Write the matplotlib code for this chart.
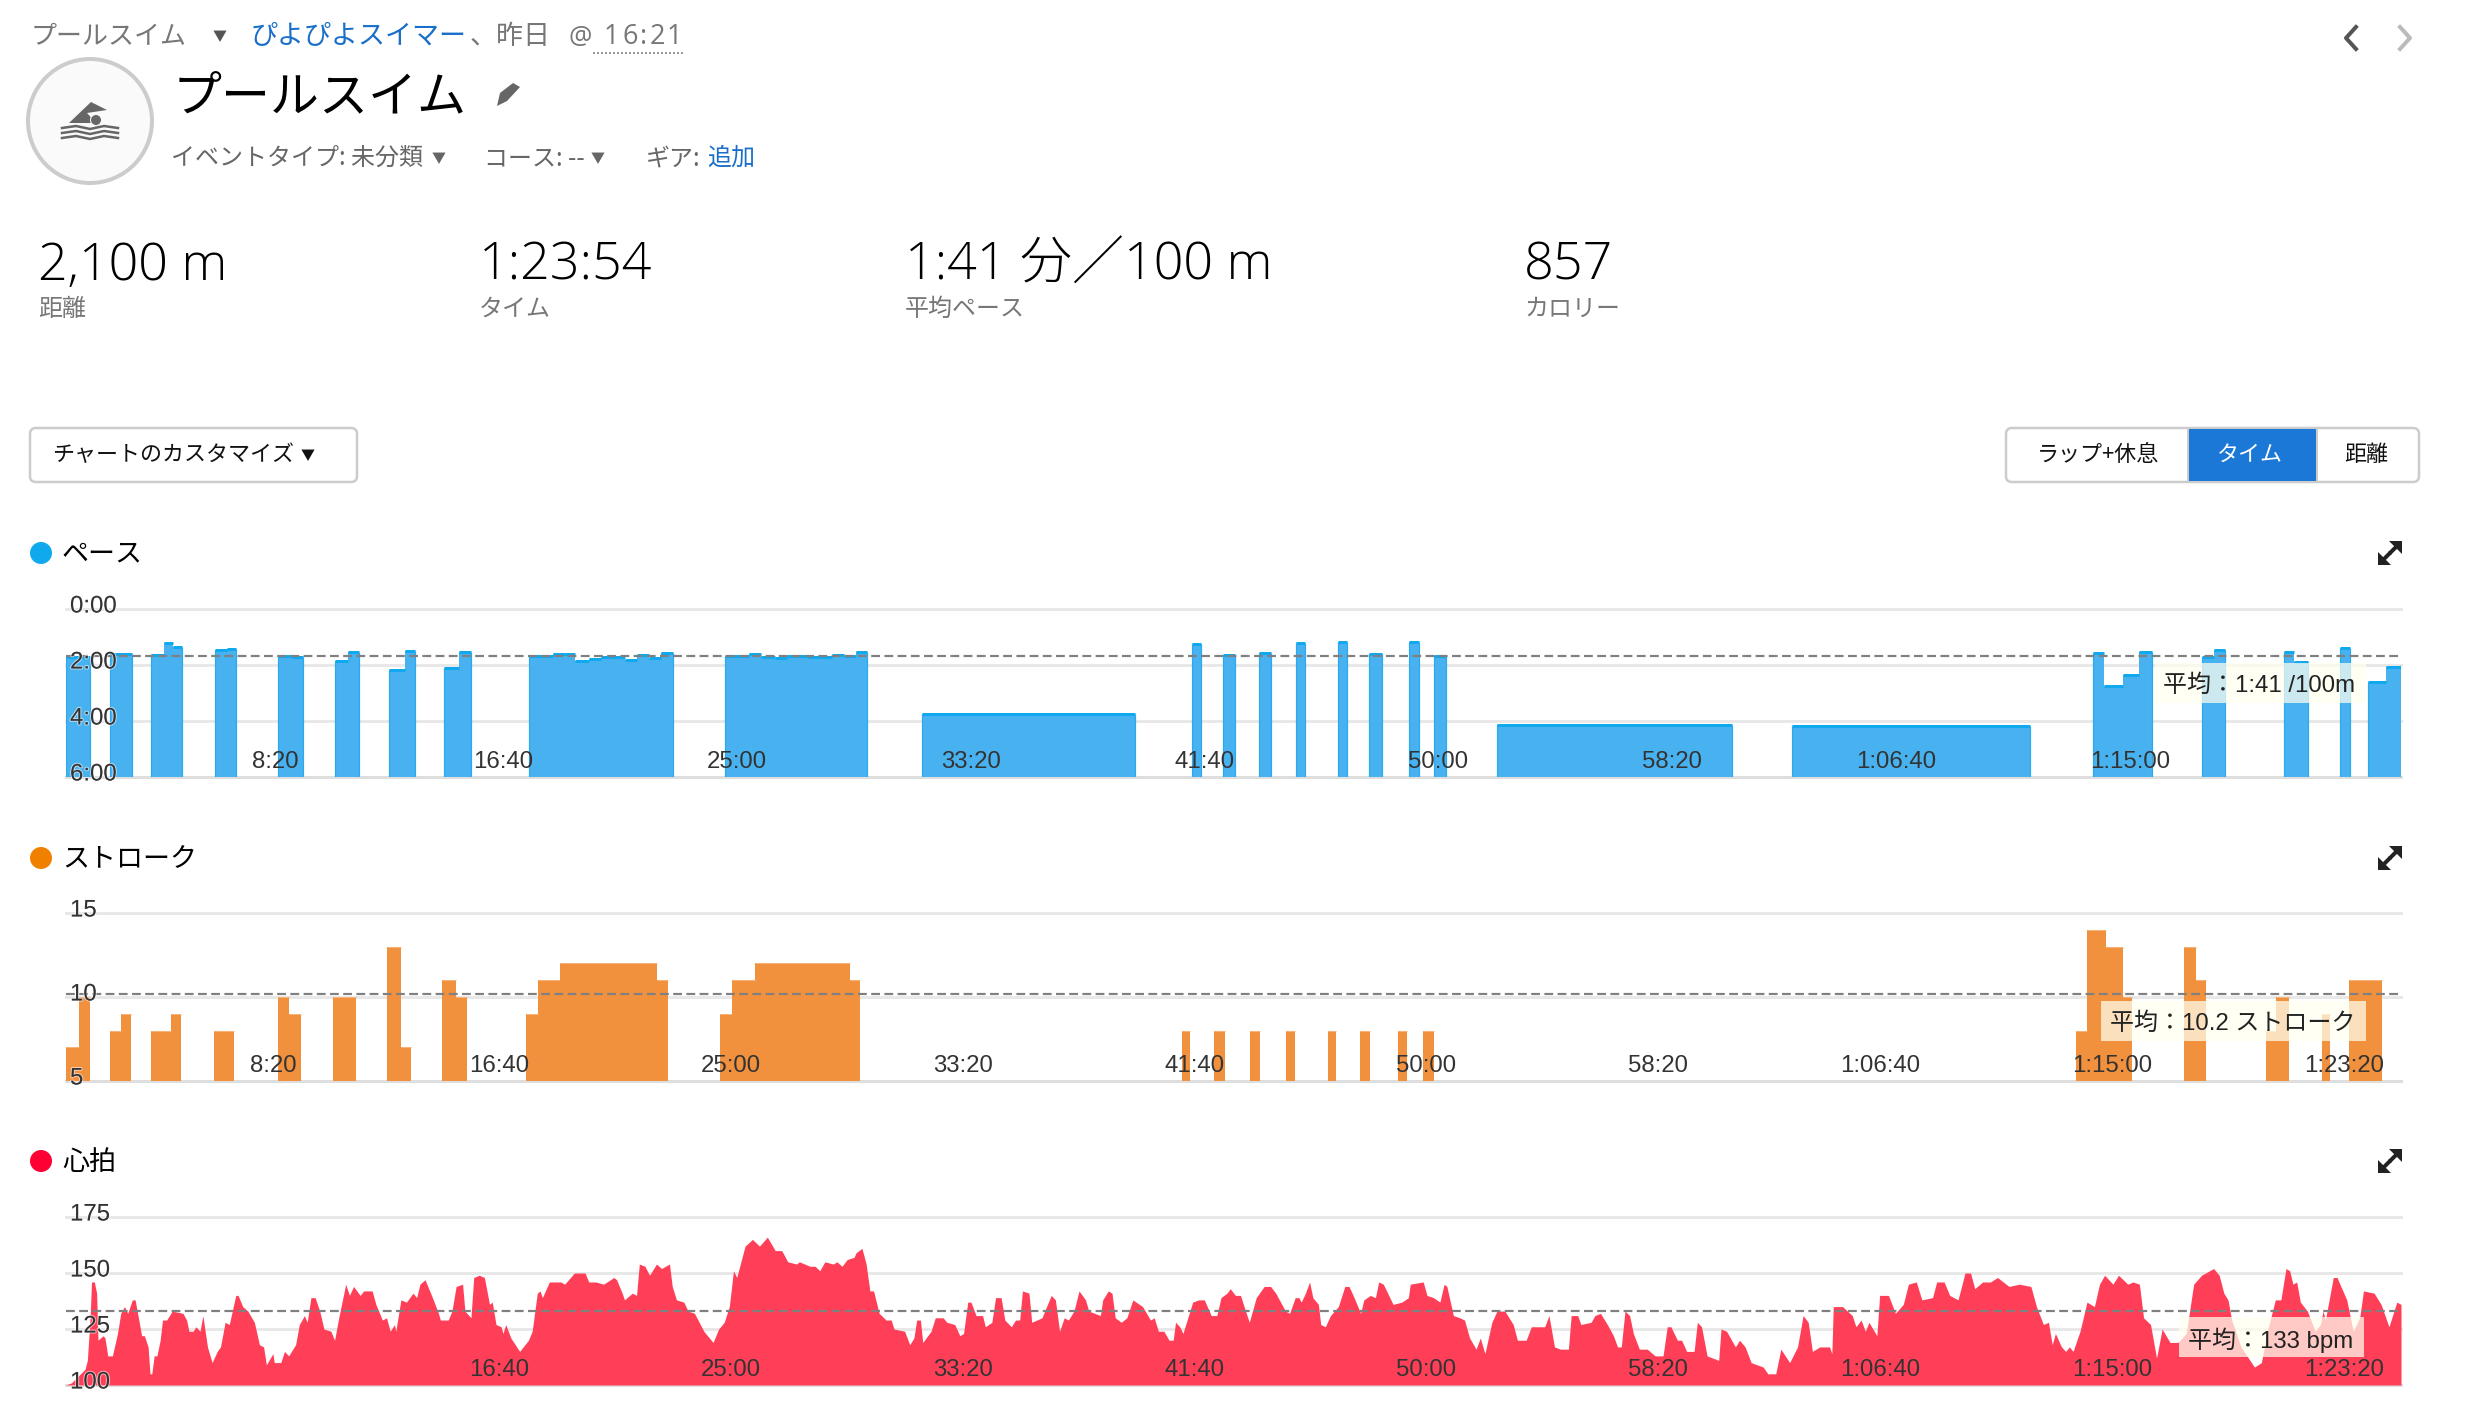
import matplotlib
matplotlib.use("Agg")
import matplotlib.pyplot as plt
from matplotlib.patches import Circle, FancyBboxPatch, Polygon, Rectangle
from matplotlib.transforms import ScaledTranslation
import matplotlib.patheffects as pe

# figure is set up at 72 dpi so 1 pt = 1 px, which keeps sizes easy to compare
W, H = 2468, 1428
JP = ["Noto Sans CJK JP", "DejaVu Sans"]
NUM = ["Liberation Sans", "Noto Sans CJK JP"]
STAT = ["Open Sans", "Noto Sans CJK JP"]
plt.rcParams["font.family"] = JP

# pace laps: start / end in seconds, value in minutes per 100 m
pace_start = [1, 94, 182, 209, 229, 319, 344, 454, 481, 574, 603, 690, 724, 809, 841,
              990, 1040, 1066, 1089, 1118, 1143, 1169, 1194, 1221, 1246, 1272,
              1409, 1459, 1485, 1515, 1541, 1586, 1612, 1637, 1662, 1688,
              1830, 2406, 2473, 2550, 2629, 2719, 2786, 2871, 2923, 3058, 3690,
              4332, 4356, 4397, 4432, 4566, 4591, 4740, 4763, 4860, 4921, 4959]
pace_end = [52, 141, 209, 229, 248, 344, 364, 481, 506, 603, 626, 724, 746, 841, 866,
            1040, 1066, 1089, 1118, 1143, 1169, 1194, 1221, 1246, 1272, 1297,
            1459, 1485, 1515, 1541, 1586, 1612, 1637, 1662, 1688, 1713,
            2284, 2426, 2499, 2575, 2649, 2739, 2813, 2891, 2950, 3560, 4197,
            4356, 4397, 4432, 4458, 4591, 4615, 4763, 4792, 4883, 4959, 4992]
pace_val = [1.71, 1.59, 1.63, 1.23, 1.35, 1.48, 1.44, 1.67, 1.73, 1.85, 1.53, 2.18, 1.49, 2.11, 1.55,
            1.67, 1.62, 1.59, 1.85, 1.80, 1.73, 1.72, 1.81, 1.63, 1.75, 1.56,
            1.69, 1.62, 1.72, 1.74, 1.68, 1.73, 1.72, 1.63, 1.69, 1.53,
            3.76, 1.26, 1.63, 1.56, 1.23, 1.18, 1.60, 1.19, 1.67, 4.13, 4.19,
            1.58, 2.74, 2.37, 1.54, 1.73, 1.48, 1.52, 1.90, 1.41, 2.60, 2.06]
pace_avg = 1.683
pace_ticks = [0, 2, 4, 6]
pace_ticklabels = ["0:00", "2:00", "4:00", "6:00"]
pace_xticks = [500, 1000, 1500, 2000, 2500, 3000, 3500, 4000, 4500]
pace_xlabels = ["8:20", "16:40", "25:00", "33:20", "41:40", "50:00", "58:20", "1:06:40", "1:15:00"]

# strokes per length
stroke_start = [1, 27, 95, 119, 184, 226, 320, 456, 480, 576, 691, 722, 811, 841,
                991, 1017, 1066, 1274, 1409, 1436, 1486, 1690, 2406, 2474, 2552, 2630,
                2720, 2789, 2872, 2925, 4333, 4357, 4397, 4435, 4566, 4592, 4742, 4764, 4863, 4922]
stroke_end = [27, 52, 119, 141, 226, 247, 363, 480, 506, 625, 722, 744, 841, 865,
              1017, 1066, 1274, 1297, 1436, 1486, 1690, 1711, 2423, 2498, 2575, 2649,
              2737, 2812, 2891, 2950, 4357, 4397, 4435, 4455, 4592, 4614, 4764, 4793, 4881, 4992]
stroke_val = [7, 10, 8, 9, 8, 9, 8, 10, 9, 10, 13, 7, 11, 10,
              9, 11, 12, 11, 9, 11, 12, 11, 8, 8, 8, 8,
              8, 8, 8, 8, 8, 14, 13, 10, 13, 11, 8, 10, 9, 11]
stroke_avg = 10.2
stroke_ticks = [5, 10, 15]
stroke_xticks = [500, 1000, 1500, 2000, 2500, 3000, 3500, 4000, 4500, 5000]
stroke_xlabels = ["8:20", "16:40", "25:00", "33:20", "41:40", "50:00", "58:20", "1:06:40", "1:15:00", "1:23:20"]

# heart rate: seconds and bpm
hr_time = [0, 12, 41, 46, 52, 55, 61, 66, 69, 80, 84, 90, 100, 111, 118, 126, 133, 143, 149, 157, 163, 169, 177, 181, 185,
           190, 196, 203, 208, 217, 229, 252, 260, 265, 274, 280, 289, 295, 305, 315, 326, 333, 343, 352, 366, 371, 381, 392,
           406, 417, 426, 432, 446, 449, 463, 471, 480, 495, 503, 514, 520, 528, 537, 547, 556, 571, 579, 588, 603, 611, 620,
           634, 642, 660, 668, 682, 691, 699, 708, 711, 722, 734, 748, 756, 763, 774, 788, 803, 807, 824, 832, 841, 855, 860,
           873, 879, 891, 902, 913, 919, 927, 938, 942, 948, 959, 978, 997, 1005, 1016, 1022, 1027, 1042, 1054, 1067, 1075,
           1096, 1119, 1127, 1142, 1159, 1181, 1187, 1199, 1204, 1221, 1230, 1236, 1248, 1258, 1273, 1284, 1301, 1307, 1316,
           1332, 1341, 1355, 1375, 1395, 1407, 1419, 1430, 1439, 1446, 1464, 1480, 1495, 1512, 1529, 1543, 1556, 1575, 1581,
           1604, 1615, 1625, 1636, 1654, 1662, 1673, 1684, 1699, 1703, 1716, 1725, 1733, 1741, 1753, 1768, 1779, 1785, 1808,
           1819, 1828, 1834, 1842, 1847, 1865, 1874, 1891, 1899, 1916, 1927, 1935, 1944, 1951, 1962, 1976, 1982, 1996, 2004,
           2016, 2024, 2038, 2047, 2056, 2062, 2076, 2082, 2104, 2124, 2133, 2142, 2152, 2161, 2173, 2184, 2198, 2205, 2230,
           2235, 2247, 2255, 2262, 2275, 2287, 2300, 2321, 2338, 2346, 2355, 2367, 2378, 2387, 2392, 2401, 2408, 2414, 2429,
           2442, 2454, 2469, 2481, 2490, 2503, 2510, 2521, 2532, 2543, 2551, 2566, 2583, 2597, 2608, 2629, 2638, 2650, 2658,
           2663, 2672, 2681, 2688, 2700, 2705, 2715, 2726, 2743, 2757, 2766, 2777, 2791, 2798, 2812, 2823, 2830, 2840, 2861,
           2880, 2894, 2898, 2926, 2934, 2948, 2962, 2971, 2977, 2991, 3005, 3015, 3026, 3040, 3049, 3059, 3074, 3085, 3102,
           3120, 3129, 3148, 3159, 3177, 3188, 3197, 3209, 3222, 3239, 3245, 3259, 3266, 3288, 3296, 3308, 3323, 3336, 3345,
           3353, 3361, 3371, 3379, 3392, 3409, 3426, 3443, 3452, 3460, 3474, 3483, 3494, 3510, 3517, 3526, 3538, 3563, 3568,
           3580, 3599, 3608, 3620, 3633, 3659, 3669, 3686, 3697, 3716, 3733, 3745, 3756, 3765, 3781, 3802, 3807, 3810, 3830,
           3851, 3859, 3870, 3879, 3887, 3904, 3910, 3929, 3944, 3961, 3972, 3989, 4001, 4024, 4033, 4049, 4061, 4079, 4094,
           4106, 4115, 4132, 4149, 4164, 4189, 4211, 4236, 4248, 4263, 4274, 4282, 4289, 4302, 4311, 4319, 4327, 4342, 4357,
           4373, 4384, 4395, 4413, 4425, 4445, 4456, 4470, 4479, 4494, 4507, 4519, 4536, 4553, 4571, 4587, 4604, 4630, 4642,
           4652, 4661, 4669, 4689, 4718, 4733, 4746, 4763, 4775, 4786, 4794, 4801, 4809, 4817, 4832, 4849, 4860, 4866, 4871,
           4888, 4896, 4917, 4931, 4945, 4953, 4976, 4991, 5008, 5025, 5034]
hr_bpm = [100, 101, 107, 111, 130, 146, 146, 141, 120, 122, 121, 113, 113, 123, 132, 135, 132, 138, 138, 129, 122, 122, 117, 105, 105,
          113, 113, 120, 129, 129, 133, 132, 129, 124, 124, 126, 124, 131, 117, 110, 115, 117, 128, 127, 140, 140, 135, 133,
          128, 118, 117, 109, 114, 110, 110, 115, 113, 118, 127, 131, 128, 139, 139, 133, 125, 124, 120, 130, 145, 140, 144,
          140, 142, 142, 136, 129, 130, 124, 127, 124, 138, 137, 141, 139, 145, 147, 140, 132, 129, 129, 133, 144, 145, 133,
          130, 148, 149, 148, 136, 137, 127, 126, 123, 127, 121, 115, 120, 124, 141, 142, 139, 146, 146, 146, 145,
          150, 150, 146, 146, 145, 148, 147, 141, 138, 141, 140, 154, 153, 149, 154, 152, 154, 144, 138,
          137, 133, 132, 124, 119, 125, 128, 135, 151, 148, 162, 165, 162, 166, 160, 160, 155, 154, 155,
          153, 153, 151, 155, 154, 155, 153, 156, 157, 159, 161, 154, 142, 142, 132, 129, 129, 125, 124,
          118, 121, 129, 129, 119, 124, 130, 130, 128, 127, 122, 123, 137, 137, 131, 131, 126, 128, 139,
          139, 129, 126, 129, 129, 142, 141, 128, 130, 140, 138, 124, 130, 129, 133, 142, 138, 133, 131,
          138, 142, 141, 130, 128, 130, 138, 135, 129, 130, 124, 124, 120, 120, 128, 126, 123, 127, 137,
          138, 138, 131, 131, 139, 141, 143, 140, 140, 133, 128, 139, 144, 144, 141, 133, 132, 139, 139,
          137, 141, 146, 139, 136, 127, 126, 131, 135, 144, 144, 139, 132, 138, 140, 139, 146, 145, 136,
          137, 139, 145, 146, 140, 139, 137, 145, 144, 131, 130, 129, 121, 116, 121, 114, 128, 133, 133,
          127, 120, 120, 126, 126, 126, 131, 117, 116, 116, 131, 131, 127, 128, 131, 132, 127, 122, 117,
          117, 133, 131, 123, 116, 116, 113, 113, 126, 126, 120, 120, 115, 115, 128, 126, 113, 111, 125,
          124, 117, 120, 117, 110, 108, 105, 105, 116, 110, 117, 131, 128, 115, 117, 117, 114, 135, 135,
          131, 126, 129, 124, 128, 122, 140, 140, 132, 136, 145, 146, 138, 139, 146, 146, 140, 138, 150,
          150, 143, 146, 146, 148, 144, 145, 144, 135, 127, 128, 118, 123, 117, 115, 117, 115, 124, 137,
          135, 145, 149, 145, 149, 145, 146, 145, 130, 127, 112, 125, 119, 119, 123, 145, 149, 152, 149,
          141, 138, 129, 117, 108, 110, 124, 138, 138, 152, 151, 145, 146, 137, 133, 124, 127, 133, 129,
          148, 148, 138, 124, 130, 142, 141, 136, 126, 137, 136]
hr_avg = 133
hr_ticks = [100, 125, 150, 175]
hr_xticks = [1000, 1500, 2000, 2500, 3000, 3500, 4000, 4500, 5000]
hr_xlabels = ["16:40", "25:00", "33:20", "41:40", "50:00", "58:20", "1:06:40", "1:15:00", "1:23:20"]

# summary numbers under the title
stat_values = ["2,100 m", "1:23:54", "1:41 分／100 m", "857"]
stat_names = ["距離", "タイム", "平均ペース", "カロリー"]
stat_x = [38, 479, 905, 1524]

fig = plt.figure(figsize=(W / 72, H / 72), dpi=72, facecolor="white")


def chart_axes(top, bottom, xmax, ymin, ymax, yticks, ylabels, xticks, xlabels, avg, xpad):
    ax = fig.add_axes([66 / W, 1 - bottom / H, 2335 / W, (bottom - top) / H])
    ax.set_xlim(0, xmax)
    ax.set_ylim(ymin, ymax)
    for s in ax.spines.values():
        s.set_visible(False)
    ax.patch.set_alpha(0)
    for v in yticks:
        c = "#dedede" if v == ymin else "#e8e8e8"
        ax.axhline(v, color=c, lw=3, zorder=0, clip_on=False)
    ax.axhline(avg, color="#808080", lw=2.2, dashes=(4, 2), zorder=3)
    ax.set_yticks(yticks)
    ax.set_yticklabels(ylabels, family=NUM, fontsize=24, color="#333333", ha="left")
    ax.set_xticks(xticks)
    ax.set_xticklabels(xlabels, family=NUM, fontsize=24, color="#333333", ha="right")
    ax.tick_params(axis="y", length=0, pad=-4)
    ax.tick_params(axis="x", length=0, pad=-xpad)
    ax.xaxis.set_zorder(10)
    ax.yaxis.set_zorder(10)
    shift = ScaledTranslation(0, 5 / 72, fig.dpi_scale_trans)
    for lab in ax.get_yticklabels():
        lab.set_transform(lab.get_transform() + shift)
        lab.set_path_effects([pe.withStroke(linewidth=2, foreground=(1, 1, 1, 0.6))])
    shift = ScaledTranslation(-1 / 72, 0, fig.dpi_scale_trans)
    for lab in ax.get_xticklabels():
        lab.set_transform(lab.get_transform() + shift)
    return ax


# pace chart, smaller is faster so the axis runs downward
ax1 = chart_axes(609, 777, 4991, 6, 0, pace_ticks, pace_ticklabels, pace_xticks, pace_xlabels, pace_avg, 26)
widths = [e - s for s, e in zip(pace_start, pace_end)]
ax1.bar(pace_start, [v - 6 for v in pace_val], widths, bottom=6, align="edge", color="#47b2ef", zorder=1)
ax1.hlines(pace_val, pace_start, pace_end, color="#11a9ed", lw=3, zorder=2)
# darker outline on the outer sides of each block only
for s, e, v in zip(pace_start, pace_end, pace_val):
    if s not in pace_end:
        ax1.vlines(s, 6, v, color="#2ba8ee", lw=1.2, zorder=2)
    if e not in pace_start:
        ax1.vlines(e, 6, v, color="#2ba8ee", lw=1.2, zorder=2)

# strokes
ax2 = chart_axes(913, 1081, 5034, 5, 15, stroke_ticks, [str(t) for t in stroke_ticks],
                 stroke_xticks, stroke_xlabels, stroke_avg, 26)
widths = [e - s for s, e in zip(stroke_start, stroke_end)]
ax2.bar(stroke_start, [v - 5 for v in stroke_val], widths, bottom=5, align="edge", color="#f2913d", zorder=1)
ax2.hlines(stroke_val, stroke_start, stroke_end, color="#f7b27a", lw=1, zorder=2)

# heart rate
ax3 = chart_axes(1217, 1385, 5034, 100, 175, hr_ticks, [str(t) for t in hr_ticks],
                 hr_xticks, hr_xlabels, hr_avg, 26)
ax3.fill_between(hr_time, hr_bpm, 100, color="#ff3f58", lw=0, zorder=1)

# everything around the charts is page furniture, drawn in pixel coordinates
ui = fig.add_axes([0, 0, 1, 1], zorder=20)
ui.set_xlim(0, W)
ui.set_ylim(H, 0)
ui.axis("off")
ui.patch.set_alpha(0)

GRAY = "#666666"
BLUE = "#1a6fc9"


def label(x, y, s, size=26, color="#666666", family=JP, ha="left", **kw):
    # the CJK font sits a little high compared with the page, hence the nudge
    ui.text(x, y + 2, s, fontsize=size, color=color, family=family, ha=ha, va="center", **kw)


# breadcrumb line
label(31, 35, "プールスイム", 26, "#777777")
label(220, 35, "▼", 14, "#555555", ha="center")
label(251, 35, "ぴよぴよスイマー", 27, BLUE)
label(470, 35, "、昨日", 27, "#777777")
label(568, 35, "@", 26, "#777777", family=STAT)
for i, ch in enumerate("16:21"):
    label(604 + [0, 18, 36, 46, 63][i], 35, ch, 27, "#777777", family=STAT)
ui.plot([593, 684], [53, 53], color="#999999", lw=2, ls=(0, (1, 1)))

# activity icon
ui.add_patch(Circle((90, 121), 62, fc="#fafafa", ec="#cccccc", lw=4))
ui.add_patch(Polygon([(69, 123), (91, 102), (107, 110), (87, 113), (96, 123)], fc=GRAY, ec="none"))
ui.add_patch(Circle((96, 120), 5.5, fc=GRAY, ec="#fafafa", lw=1))
for wy in [128, 133, 138]:
    ui.plot([62, 76, 90, 104, 118], [wy, wy - 2, wy + 1, wy - 2, wy], color=GRAY, lw=2.5)

# title row
label(173, 96, "プールスイム", 49, "#000000")
ui.add_patch(Polygon([(497, 106), (500, 93), (513, 83), (520, 87), (507, 101)], fc=GRAY, ec="none"))
label(171, 156, "イベントタイプ: 未分類", 24, GRAY)
label(439, 157, "▼", 14, GRAY, ha="center")
label(484, 156, "コース: --", 24, GRAY)
label(598, 157, "▼", 14, GRAY, ha="center")
label(646, 156, "ギア:", 24, GRAY)
label(707, 156, "追加", 24, BLUE)

for x, val, name in zip(stat_x, stat_values, stat_names):
    label(x, 264, val, 52, "#000000", family=STAT, fontweight="light")
    label(x, 307, name, 24, "#777777")

# dropdown and the segmented buttons
ui.add_patch(FancyBboxPatch((30, 428), 327, 54, boxstyle="round,pad=0,rounding_size=6", fc="white", ec="#cccccc", lw=2.5))
label(52, 453, "チャートのカスタマイズ", 22, "#111111")
label(308, 454, "▼", 14, "#111111", ha="center")
ui.add_patch(FancyBboxPatch((2006, 428), 413, 54, boxstyle="round,pad=0,rounding_size=6", fc="white", ec="#cccccc", lw=2.5))
ui.add_patch(Rectangle((2189, 429), 127, 52, fc="#1b78d6", ec="none"))
ui.plot([2188, 2188], [428, 482], color="#cccccc", lw=2)
ui.plot([2317, 2317], [428, 482], color="#cccccc", lw=2)
label(2098, 453, "ラップ+休息", 22, "#111111", ha="center")
label(2250, 453, "タイム", 22, "white", ha="center")
label(2366, 453, "距離", 22, "#111111", ha="center")

# previous / next arrows
ui.plot([2356, 2346, 2356], [27, 38, 49], color="#555555", lw=4)
ui.plot([2400, 2410, 2400], [27, 38, 49], color="#bbbbbb", lw=4)

# section headings with dots and expand icons
for y, name, col in [(553, "ペース", "#11a9ed"), (858, "ストローク", "#f08000"), (1161, "心拍", "#ff0035")]:
    ui.add_patch(Circle((41, y), 11, fc=col, ec="none"))
    label(62, y - 1, name, 27, "#000000")
    cx = 2390
    ui.add_patch(Polygon([(cx + 12, y - 12), (cx - 1, y - 12), (cx + 12, y + 1)], fc="#222222", ec="none"))
    ui.add_patch(Polygon([(cx - 12, y + 12), (cx + 1, y + 12), (cx - 12, y - 1)], fc="#222222", ec="none"))
    ui.plot([cx + 7, cx + 1], [y - 7, y - 1], color="#222222", lw=4)
    ui.plot([cx - 7, cx - 1], [y + 7, y + 1], color="#222222", lw=4)

# average tooltips sit on top of the marks
for x0, x1, y0, y1, s in [(2155, 2366, 663, 703, "平均：1:41 /100m"),
                          (2101, 2366, 1001, 1041, "平均：10.2 ストローク"),
                          (2179, 2364, 1317, 1357, "平均：133 bpm")]:
    ui.add_patch(Rectangle((x0, y0), x1 - x0, y1 - y0, fc="#fffff0", ec="none", alpha=0.72))
    label(x1 - 11, (y0 + y1) / 2 + 1, s, 24, "#222222", family=NUM, ha="right")

fig.savefig("out.png", dpi=72)
